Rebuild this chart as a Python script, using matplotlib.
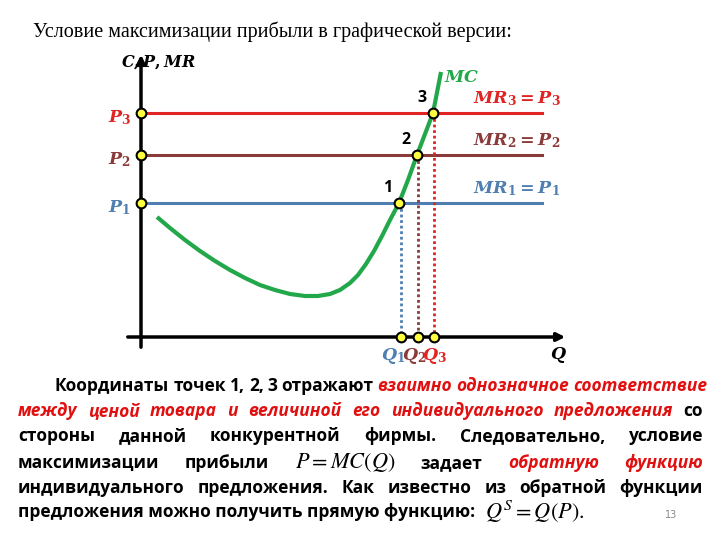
import matplotlib
matplotlib.use('Agg')
import matplotlib.pyplot as plt

plt.rcParams['mathtext.fontset'] = 'custom'
plt.rcParams['mathtext.it'] = 'DejaVu Serif:italic:bold'
plt.rcParams['mathtext.rm'] = 'DejaVu Serif:bold'
plt.rcParams['mathtext.bf'] = 'DejaVu Serif:bold'

# координаты в пикселях слайда (ось y направлена вниз)
axis_x, axis_y = 141, 337
price_levels = [203, 155, 113]          # P1, P2, P3
line_colors = ['#4f7fb0', '#8b3a3a', '#e02424']
line_end = 542
q_points = [399, 417, 433]              # точки 1, 2, 3 на MC
q_axis = [401, 418, 434]                # Q1, Q2, Q3
mc_x = [157, 170, 185, 200, 215, 230, 245, 260, 275, 290, 305, 318, 330, 340,
        350, 358, 366, 374, 382, 390, 399, 408, 417, 425, 433, 441]
mc_y = [217, 228, 240, 251, 261, 270, 278, 285, 290, 294, 296, 296, 294, 290,
        283, 275, 264, 251, 236, 220, 203, 180, 155, 134, 113, 72]

fig = plt.figure(figsize=(7.2, 5.4), dpi=100)
ax = fig.add_axes([0, 0, 1, 1])
ax.set_xlim(0, 720)
ax.set_ylim(540, 0)
ax.axis('off')

ax.text(33, 32, 'Условие максимизации прибыли в графической версии:',
        fontsize=14.5, family='Liberation Serif', va='center')

# оси
ax.annotate('', xy=(axis_x, 52), xytext=(axis_x, 350),
            arrowprops=dict(arrowstyle='-|>', lw=2.5, color='black', mutation_scale=12))
ax.annotate('', xy=(568, axis_y), xytext=(125, axis_y),
            arrowprops=dict(arrowstyle='-|>', lw=2.5, color='black', mutation_scale=12))
ax.text(121, 62, r'$C,P,MR$', fontsize=11.5, va='center')
ax.text(550, 355, r'$Q$', fontsize=12.5, va='center')

# ценовые линии
for i in range(3):
    ax.plot([axis_x, line_end], [price_levels[i]] * 2, color=line_colors[i], lw=2.2, zorder=2)
    ax.plot([q_axis[i], q_axis[i]], [price_levels[i], axis_y], color=line_colors[i],
            lw=2, ls=(0, (1, 1)), zorder=2)
    ax.text(108, price_levels[i] + 5, r'$P_%d$' % (i + 1), color=line_colors[i],
            fontsize=12.5, va='center')
    ax.text(473, price_levels[i] - 14, r'$MR_%d = P_%d$' % (i + 1, i + 1),
            color=line_colors[i], fontsize=12.5, va='center')
    ax.text(q_points[i] - 11, price_levels[i] - 15, str(i + 1), fontsize=11.5,
            family='Open Sans', fontweight='bold', ha='center', va='center')
    ax.text(q_axis[i] - 8 + i * 4, 356, r'$Q_%d$' % (i + 1), color=line_colors[i],
            fontsize=12.5, ha='center', va='center')

ax.plot(mc_x, mc_y, color='#22a84a', lw=3, zorder=3, solid_capstyle='butt')
ax.text(444, 77, r'$MC$', color='#22a84a', fontsize=12.5, va='center')

mk = dict(marker='o', ms=7, mfc='#ffff40', mec='black', mew=1.5, ls='none', zorder=5)
ax.plot([axis_x] * 3, price_levels, **mk)
ax.plot(q_points, price_levels, **mk)
ax.plot(q_axis, [axis_y] * 3, **mk)

# текст слайда
R = '#e01010'
lines = [
    (386, 55, True, [('Координаты', 'k', 0), ('точек', 'k', 0), ('1,', 'k', 0), ('2,', 'k', 0),
                     ('3', 'k', 0), ('отражают', 'k', 0), ('взаимно', R, 1), ('однозначное', R, 1),
                     ('соответствие', R, 1)]),
    (411, 18, True, [(w, R, 1) for w in 'между ценой товара и величиной его индивидуального предложения'.split()]
     + [('со', 'k', 0)]),
    (436, 18, True, [(w, 'k', 0) for w in 'стороны данной конкурентной фирмы. Следовательно, условие'.split()]),
    (463, 18, True, [('максимизации', 'k', 0), ('прибыли', 'k', 0), (r'$P = MC(Q)$', 'k', 2),
                     ('задает', 'k', 0), ('обратную', R, 1), ('функцию', R, 1)]),
    (488, 18, True, [(w, 'k', 0) for w in 'индивидуального предложения. Как известно из обратной функции'.split()]),
    (512, 18, False, [('предложения можно получить прямую функцию:', 'k', 0), (r'$Q^S = Q(P).$', 'k', 2)]),
]
right = 703
renderer = fig.canvas.get_renderer()
for y, left, justify, toks in lines:
    objs = []
    for t, c, st in toks:
        if st == 2:
            o = ax.text(0, y, t, color=c, fontsize=16, math_fontfamily='stix', va='center')
        else:
            o = ax.text(0, y, t, color=c, fontsize=12.5, family='Open Sans', fontweight='bold',
                        fontstyle='italic' if st else 'normal', va='center')
        objs.append(o)
    widths = [o.get_window_extent(renderer).width for o in objs]
    gap = (right - left - sum(widths)) / (len(objs) - 1) if justify else 10
    gap = max(gap, 4)
    x = left
    for o, w in zip(objs, widths):
        o.set_x(x)
        x += w + gap

ax.text(665, 515, '13', fontsize=7, color='#888888', va='center')

fig.savefig('out.png', dpi=100)
